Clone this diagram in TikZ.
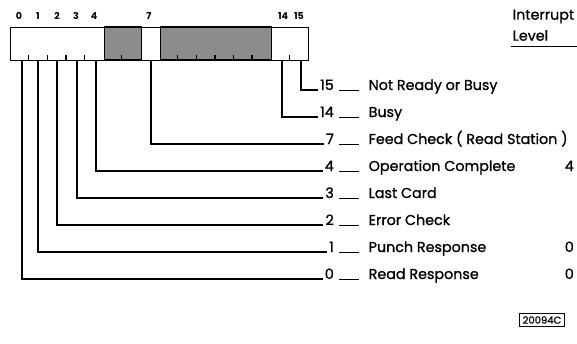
\documentclass[tikz,border=0pt]{standalone}
\usepackage{fontspec}
\setmainfont{Poppins}
\newfontfamily\lblfont{Poppins}[FakeBold=1.1]
\usetikzlibrary{positioning}

\begin{document}
\begin{tikzpicture}[
  x=1pt, y=-1pt,
  font=\lblfont\fontsize{14.3}{21}\selectfont,
  line width=1.4pt,
  bitnum/.style={font=\fontsize{9.5}{10}\selectfont\bfseries, inner sep=0pt},
  lvlnum/.style={anchor=base east, inner sep=1.5pt},
  lvltext/.style={anchor=base west, inner sep=0pt},
  dotfill/.style={draw, fill=black!45},
  dash line/.style={line width=0.9pt, shorten <=3pt, shorten >=9pt}
]
\useasboundingbox (0,0) rectangle (577,343);

% register
\node[draw, anchor=north west, inner sep=0pt, minimum width=298pt, minimum height=33pt] (reg) at (10,27) {};
\draw[dotfill] (104.5,27) rectangle (141.7,60);
\draw[dotfill] (160.4,27) rectangle (271.7,60);
\foreach \k in {1,2,3,4,6,9,10,11,12,13,15}
  \draw (10+18.625*\k,60) -- ++(0,-5);

% bit numbers
\node[bitnum] (l0) at (19,16) {0};
\node[bitnum] (l1) at (38,16) {1};
\node[bitnum] (l2) at (57,16) {2};
\node[bitnum] (l3) at (76,16) {3};
\node[bitnum] (l4) at (94,16) {4};
\node[bitnum] (l7) at (149,16) {7};
\node[bitnum] (l14) at (283,16) {14};
\node[bitnum] (l15) at (299,16) {15};

% bit taps
\coordinate (b0) at (22,60);
\coordinate (b1) at (38,60);
\coordinate (b2) at (57,60);
\coordinate (b3) at (77,60);
\coordinate (b4) at (96,60);
\coordinate (b7) at (151,60);
\coordinate (b14) at (282,60);
\coordinate (b15) at (301,60);

% numbers and meanings
\node[lvlnum] (n15) at (336,90) {15};
\node[lvlnum] (n14) at (336,117) {14};
\node[lvlnum] (n7) at (336,144) {7};
\node[lvlnum] (n4) at (336,171) {4};
\node[lvlnum] (n3) at (336,198) {3};
\node[lvlnum] (n2) at (336,225) {2};
\node[lvlnum] (n1) at (336,252) {1};
\node[lvlnum] (n0) at (336,279) {0};

\node[lvltext] (t15) at (368,90) {Not Ready or Busy};
\node[lvltext] (t14) at (368,117) {Busy};
\node[lvltext] (t7) at (368,144) {Feed Check ( Read Station )};
\node[lvltext] (t4) at (368,171) {Operation Complete};
\node[lvltext] (t3) at (368,198) {Last Card};
\node[lvltext] (t2) at (368,225) {Error Check};
\node[lvltext] (t1) at (368,252) {Punch Response};
\node[lvltext] (t0) at (368,279) {Read Response};

\foreach \b in {15,14,7,4,3,2,1,0} {
  \draw (b\b) |- (n\b.base west);
  \draw[dash line] (n\b.base east) -- (t\b.base west);
}

% interrupt level column
\node[anchor=north west, align=left, inner sep=0pt] (hdr) at (512,9) {Interrupt\\Level};
\draw ([xshift=-1pt, yshift=-5pt]hdr.south west) -- ++(67,0);
\node[lvlnum] (v4) at (576,171) {4};
\node[lvlnum] (v1) at (576,252) {0};
\node[lvlnum] (v0) at (576,279) {0};

\node[draw, line width=0.9pt, font=\lblfont\fontsize{10}{11}\selectfont, inner xsep=3pt, inner ysep=2.5pt] (fig) at (542,320) {20094C};
\end{tikzpicture}
\end{document}
